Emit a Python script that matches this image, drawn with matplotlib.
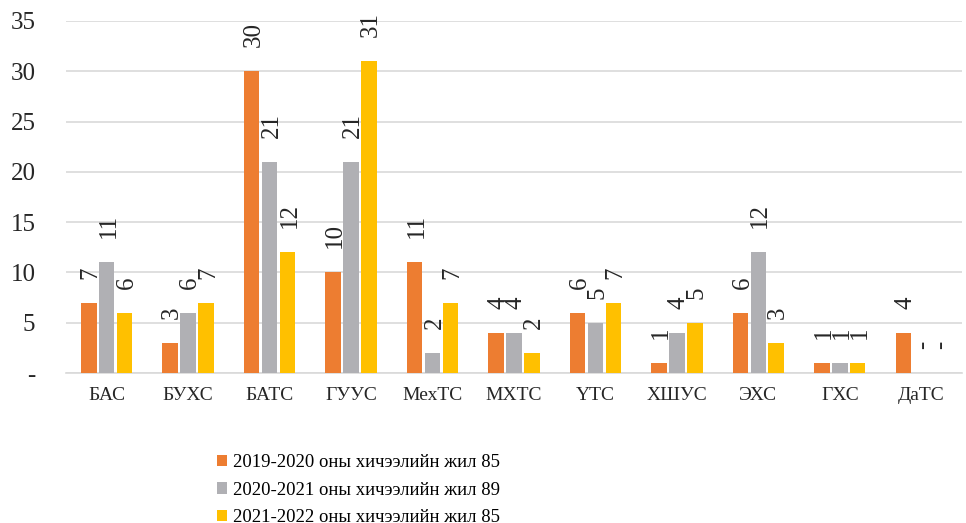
import numpy as np
import matplotlib.pyplot as plt

## DATA
categories = ["БАС", "БУХС", "БАТС", "ГУУС", "МехТС", "МХТС", "ҮТС", "ХШУС", "ЭХС", "ГХС", "ДаТС"]
series_names = ["2019-2020 оны хичээлийн жил 85",
                "2020-2021 оны хичээлийн жил 89",
                "2021-2022 оны хичээлийн жил 85"]
y2019 = [7, 3, 30, 10, 11, 4, 6, 1, 6, 1, 4]
y2020 = [11, 6, 21, 21, 2, 4, 5, 4, 12, 1, 0]
y2021 = [6, 7, 12, 31, 7, 2, 7, 5, 3, 1, 0]
yticks = [0, 5, 10, 15, 20, 25, 30, 35]
ytick_labels = ["-", "5", "10", "15", "20", "25", "30", "35"]

colors = ["#ED7D31", "#B0B0B4", "#FFC000"]

plt.rcParams['font.family'] = ['Liberation Serif', 'DejaVu Serif']

fig = plt.figure(figsize=(9.66, 5.23), dpi=100)
ax = fig.add_axes([0.0683, 0.2868, 0.9275, 0.6732])

x = np.arange(len(categories))
w = 0.19
step = 0.22
for i, (vals, col, name) in enumerate(zip([y2019, y2020, y2021], colors, series_names)):
    pos = x + (i - 1) * step
    ax.bar(pos, vals, width=w, color=col, label=name, zorder=3)
    # rotated value labels above bars, zero shown as dash
    for px, v in zip(pos, vals):
        txt = str(v) if v != 0 else "-"
        ax.annotate(txt, (px, v), xytext=(2, 24), textcoords='offset pixels',
                    rotation=90, ha='left', va='center', fontsize=18,
                    color="#262626", rotation_mode='anchor')

ax.set_xlim(-0.5, len(categories) - 0.5)
ax.set_ylim(0, 35)
ax.set_yticks(yticks)
ax.set_yticklabels(ytick_labels, fontsize=18, color="#262626")
ax.set_xticks(x)
ax.set_xticklabels(categories, fontsize=14, color="#262626")
ax.tick_params(axis='both', length=0)
ax.tick_params(axis='y', pad=22)
ax.tick_params(axis='x', pad=10)

ax.grid(axis='y', color="#D9D9D9", linewidth=1.2, zorder=0)
for s in ['top', 'right', 'left']:
    ax.spines[s].set_visible(False)
ax.spines['bottom'].set_color("#D9D9D9")
ax.spines['bottom'].set_linewidth(1.2)

fig.legend(loc='upper left', bbox_to_anchor=(0.215, 0.149), frameon=False,
           fontsize=13.5, handlelength=0.55, handleheight=0.55, handletextpad=0.3,
           labelspacing=0.55, borderpad=0)

fig.savefig("out.png", dpi=100)
